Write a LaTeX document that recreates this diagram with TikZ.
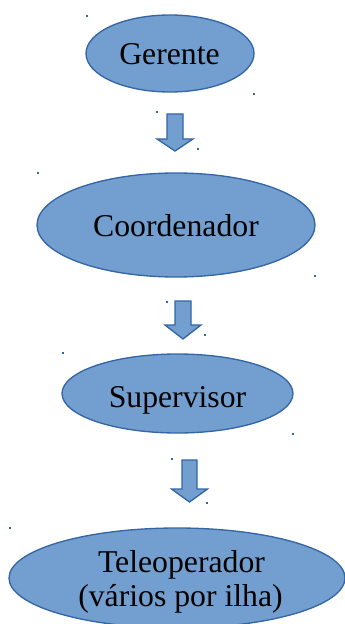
\documentclass[tikz,border=0pt]{standalone}
\usepackage{fontspec}
\setmainfont{Liberation Serif}
\usetikzlibrary{shapes.geometric}
\definecolor{bfill}{HTML}{729FCF}
\definecolor{bline}{HTML}{3465A4}
\tikzset{
  oval/.style={ellipse, draw=bline, fill=bfill, line width=1pt, inner sep=0pt},
  lbl/.style={anchor=base, inner sep=0pt, font=\fontsize{23.8}{25.5}\selectfont},
  blockarrow/.style={draw=bline, fill=bfill, line width=1pt, line join=miter},
  handle/.style={fill=bline, draw=none}
}
\newcommand\handledot[2]{\fill[handle] (#1-1,#2-1) rectangle (#1+1,#2+1);}
\begin{document}
\begin{tikzpicture}[x=0.75pt,y=-0.75pt]
\useasboundingbox (0,0) rectangle (345,624);
\clip (0,0) rectangle (345,624);
% ellipses
\node[oval, minimum width=168*0.75pt, minimum height=77*0.75pt] (g) at (170,53.5) {};
\node[oval, minimum width=278*0.75pt, minimum height=104*0.75pt] (c) at (176,225) {};
\node[oval, minimum width=231*0.75pt, minimum height=79*0.75pt] (s) at (177.5,393.5) {};
\node[oval, minimum width=336*0.75pt, minimum height=100*0.75pt] (t) at (177,578) {};
% labels
\node[lbl] (gt) at (169.5,65) {Gerente};
\node[lbl] (ct) at (176,236) {Coordenador};
\node[lbl] (st) at (177.5,407) {Supervisor};
\node[lbl] (tt1) at (181.5,572) {Teleoperador};
\node[lbl] (tt2) at (180.5,606) {(vários por ilha)};
% block arrows
\coordinate (a1) at (175,114);
\coordinate (a2) at (183,301);
\coordinate (a3) at (189.5,460);
\draw[blockarrow] (a1) ++(-8,0) -- ++(16,0) -- ++(0,25) -- ++(10,0) -- ++(-18,12) -- ++(-18,-12) -- ++(10,0) -- cycle;
\draw[blockarrow] (a2) ++(-8,0) -- ++(16,0) -- ++(0,24) -- ++(10,0) -- ++(-18,14) -- ++(-18,-14) -- ++(10,0) -- cycle;
\draw[blockarrow] (a3) ++(-7.5,0) -- ++(15,0) -- ++(0,29) -- ++(10.5,0) -- ++(-18,13) -- ++(-18,-13) -- ++(10.5,0) -- cycle;
% selection handle dots
\handledot{87}{16}\handledot{254}{94}
\handledot{157}{112}\handledot{198}{149}
\handledot{38}{173}\handledot{315}{276}
\handledot{167}{302}\handledot{205}{335}
\handledot{63}{353}\handledot{293}{434}
\handledot{172}{459}\handledot{207}{503}
\handledot{10}{528}
\end{tikzpicture}
\end{document}
